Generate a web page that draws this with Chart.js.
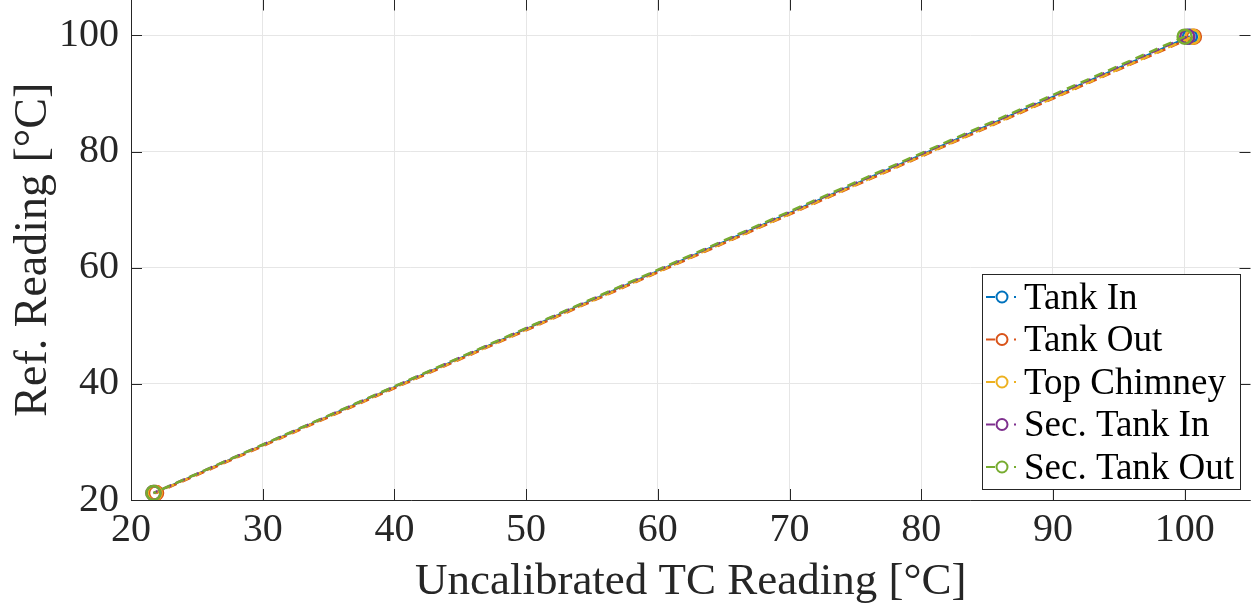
<!DOCTYPE html>
<html><head><meta charset="utf-8">
<script src="https://cdn.jsdelivr.net/npm/chart.js@4"></script>
<style>html,body{margin:0;padding:0;background:#fff;overflow:hidden}#wrap{width:1252px;height:613px;overflow:hidden;position:relative}#c{position:absolute;left:0;top:-10px}</style>
</head><body><div id="wrap"><canvas id="c" width="1260" height="623"></canvas></div>
<script>
const seriesNames = ['Tank In','Tank Out','Top Chimney','Sec. Tank In','Sec. Tank Out'];
const seriesColors = ['#0072BD','#D95319','#EDB120','#7E2F8E','#77AC30'];
const uncalLow  = [21.8, 21.9, 21.8, 21.7, 21.7];
const uncalHigh = [100.4, 100.7, 100.6, 100.2, 100.0];
const refLow  = [21.2, 21.2, 21.2, 21.2, 21.2];
const refHigh = [99.8, 99.8, 99.8, 99.8, 99.8];
const xTicks = [20,30,40,50,60,70,80,90,100];
const yTicks = [20,40,60,80,100];

const FONT = '"Liberation Serif","Times New Roman",serif';
const OFF = 10;

const datasets = seriesNames.map((n,i)=>({
  label:n,
  data:[{x:uncalLow[i],y:refLow[i]},{x:uncalHigh[i],y:refHigh[i]}],
  borderColor:seriesColors[i],
  backgroundColor:'rgba(0,0,0,0)',
  pointBorderColor:seriesColors[i],
  pointBackgroundColor:'rgba(0,0,0,0)',
  borderWidth:2.5,
  borderDash:[9,6],
  borderDashOffset:i*1.5,
  pointRadius:7,
  pointBorderWidth:2.5,
  showLine:true,
  tension:0,
  order:seriesNames.length-i
}));

const innerTicks = {
  id:'innerTicks',
  afterDatasetsDraw(chart){
    const {ctx, chartArea:a, scales:{x,y}} = chart;
    ctx.save();
    ctx.strokeStyle='#262626'; ctx.lineWidth=1;
    xTicks.forEach(v=>{const px=Math.round(x.getPixelForValue(v))+0.5;
      ctx.beginPath();ctx.moveTo(px,a.bottom);ctx.lineTo(px,a.bottom-11);
      ctx.moveTo(px,a.top);ctx.lineTo(px,a.top+11);ctx.stroke();});
    yTicks.forEach(v=>{const py=Math.round(y.getPixelForValue(v))+0.5;
      ctx.beginPath();ctx.moveTo(a.left,py);ctx.lineTo(a.left+11,py);
      ctx.moveTo(a.right,py);ctx.lineTo(a.right-11,py);ctx.stroke();});
    ctx.beginPath();
    ctx.moveTo(a.left+0.5,a.top);ctx.lineTo(a.left+0.5,a.bottom+0.5);ctx.lineTo(a.right,a.bottom+0.5);
    ctx.stroke();
    ctx.restore();
  }
};

const boxLegend = {
  id:'boxLegend',
  afterDatasetsDraw(chart){
    const ctx = chart.ctx;
    const L=982, T=274+OFF, R=1240, B=489+OFF;
    ctx.save();
    ctx.fillStyle='#fff'; ctx.fillRect(L,T,R-L,B-T);
    ctx.strokeStyle='#262626'; ctx.lineWidth=1;
    ctx.strokeRect(L+0.5,T+0.5,R-L,B-T);
    ctx.font='37px '+FONT;
    ctx.textBaseline='middle'; ctx.textAlign='left';
    chart.data.datasets.forEach((ds,i)=>{
      const cy = T+23+i*42.5;
      ctx.strokeStyle=ds.borderColor; ctx.lineWidth=2;
      ctx.setLineDash([]);
      ctx.beginPath(); ctx.moveTo(986,cy); ctx.lineTo(995,cy); ctx.stroke();
      ctx.beginPath(); ctx.arc(1002,cy,5.5,0,Math.PI*2); ctx.stroke();
      ctx.beginPath(); ctx.moveTo(1014,cy); ctx.lineTo(1016,cy); ctx.stroke();
      ctx.fillStyle='#000';
      ctx.fillText(ds.label,1024,cy+2);
    });
    ctx.restore();
  }
};

new Chart(document.getElementById('c'),{
  type:'scatter',
  data:{datasets},
  options:{
    responsive:false,animation:false,
    layout:{padding:{top:0,right:1,left:0,bottom:0}},
    plugins:{legend:{display:false},tooltip:{enabled:false}},
    scales:{
      x:{type:'linear',min:20,max:105,
        afterBuildTicks(s){s.ticks=xTicks.map(v=>({value:v}));},
        afterFit(s){s.height=113;s.paddingLeft=0;s.paddingRight=0;},
        grid:{color:'#e6e6e6',drawTicks:false,lineWidth:1},
        border:{display:false},
        ticks:{padding:6,color:'#262626',font:{family:FONT,size:40},maxRotation:0},
        title:{display:true,text:'Uncalibrated TC Reading [°C]',color:'#262626',font:{family:FONT,size:45},padding:{top:0,bottom:4}}
      },
      y:{type:'linear',min:20,max:106.2,
        afterBuildTicks(s){s.ticks=yTicks.map(v=>({value:v}));},
        afterFit(s){s.width=131;s.paddingTop=0;s.paddingBottom=0;},
        grid:{color:'#e6e6e6',drawTicks:false,lineWidth:1},
        border:{display:false},
        ticks:{padding:12,color:'#262626',font:{family:FONT,size:40}},
        title:{display:true,text:'Ref. Reading [°C]',color:'#262626',font:{family:FONT,size:46},padding:{top:6,bottom:0}}
      }
    }
  },
  plugins:[innerTicks,boxLegend]
});
</script></body></html>
